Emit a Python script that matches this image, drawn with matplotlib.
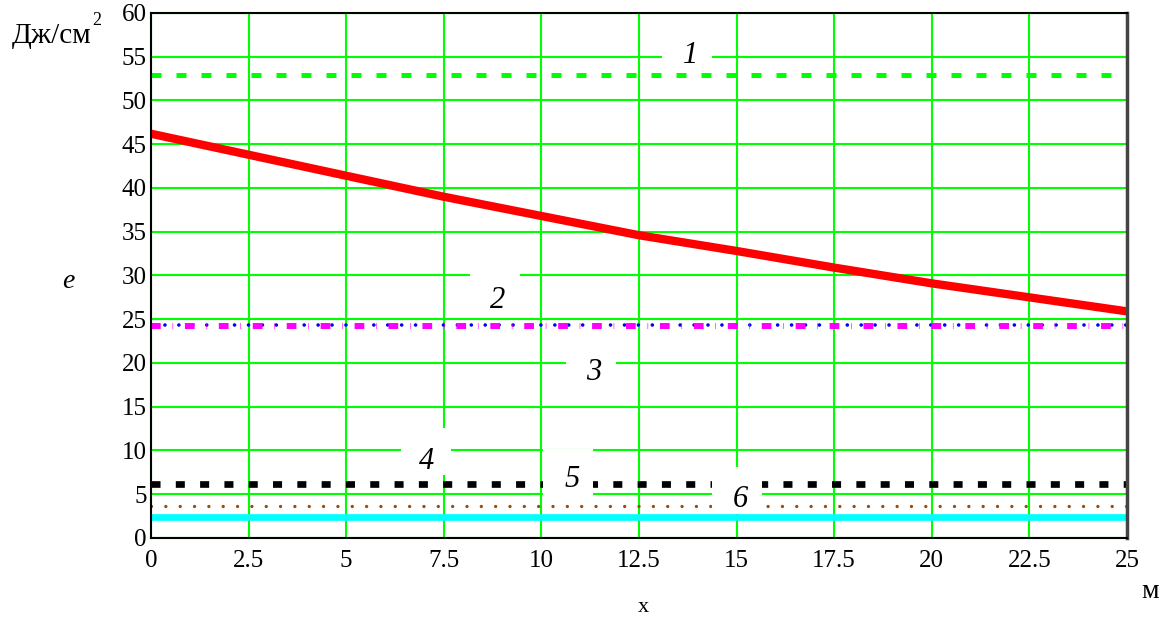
import numpy as np
import matplotlib.pyplot as plt
from matplotlib.patches import Rectangle

# x along the line, m
x_m = [0, 2.5, 5, 7.5, 10, 12.5, 15, 17.5, 20, 22.5, 25]
# curve 2 (red)
e_red = [46.2, 43.8, 41.4, 39.0, 36.8, 34.6, 32.8, 30.9, 29.1, 27.5, 25.9]
# constant levels, J/cm^2
e_green = [52.9, 52.9]
e_blue = [24.3, 24.3]
e_magenta = [24.2, 24.2]
e_black = [6.2, 6.2]
e_brown = [3.7, 3.7]
e_cyan = [2.4, 2.4]
x_ends = [0, 25]

x_ticks = np.arange(0, 25.1, 2.5)
x_tick_labels = ["0", "2.5", "5", "7.5", "10", "12.5", "15", "17.5", "20", "22.5", "25"]
y_ticks = np.arange(0, 61, 5)

curve_labels = ["1", "2", "3", "4", "5", "6"]
# text baseline positions and the white boxes behind them (data units)
label_xy = [(13.81, 54.23), (8.89, 26.23), (11.35, 18.11), (7.07, 7.94), (10.78, 5.77), (15.09, 3.49)]
box_xy = [(13.74, 56.11), (8.81, 28.11), (11.27, 20.0), (7.04, 9.83), (10.68, 7.43), (15.01, 5.37)]
box_w, box_h = 1.28, 5.37

plt.rcParams['font.family'] = ['Liberation Serif', 'DejaVu Serif']

fig = plt.figure(figsize=(11.68, 6.19), dpi=100)
ax = fig.add_axes([0.1293, 0.1309, 0.8356, 0.8481])

ax.set_xlim(0, 25)
ax.set_ylim(0, 60)
ax.set_xticks(x_ticks)
ax.set_xticklabels(x_tick_labels)
ax.set_yticks(y_ticks)
ax.tick_params(length=0, labelsize=18)
ax.tick_params(axis='x', pad=9)
ax.tick_params(axis='y', pad=3)
ax.grid(True, color='#00ff00', lw=1.5)
ax.set_axisbelow(True)
for s in ['left', 'bottom', 'top']:
    ax.spines[s].set_linewidth(1.5)
    ax.spines[s].set_color('black')
ax.spines['right'].set_linewidth(2.5)
ax.spines['right'].set_color('#444444')

lw = 3.6
ax.plot(x_ends, e_green, color='#00ff00', lw=lw, dashes=(7.2 / lw, 10.8 / lw),
        solid_capstyle='butt', dash_capstyle='butt')
ax.plot(x_m, e_red, color='red', lw=6, solid_capstyle='butt')
ax.plot(x_ends, e_blue, color='blue', lw=2.6, dashes=(0.01, 10 / 2.6),
        dash_capstyle='round')
ax.plot(x_ends, e_magenta, color='magenta', lw=4.3,
        dashes=(7 / 4.3, 8.5 / 4.3, 0.1, 8.5 / 4.3), dash_capstyle='butt')
lw = 4.8
ax.plot(x_ends, e_black, color='black', lw=lw, dashes=(6.5 / lw, 11 / lw),
        dash_capstyle='butt')
ax.plot(x_ends, e_brown, color='#994c0c', lw=2.4, dashes=(0.01, 10.3 / 2.4),
        dash_capstyle='round')
ax.plot(x_ends, e_cyan, color='#00ffff', lw=4.8, solid_capstyle='butt')

for lab, (lx, ly), (bx, by) in zip(curve_labels, label_xy, box_xy):
    ax.add_patch(Rectangle((bx - box_w / 2, by - box_h / 2), box_w, box_h,
                           facecolor='white', edgecolor='none', zorder=9))
    ax.text(lx, ly, lab, fontsize=22, style='italic', ha='center', va='baseline', zorder=10)

fig.text(12 / 1168, 1 - 43 / 619, "Дж/см", fontsize=21, ha='left', va='baseline')
fig.text(92 / 1168, 1 - 25 / 619, "2", fontsize=13, ha='left', va='baseline')
fig.text(68 / 1168, 1 - 282 / 619, "e", fontsize=20, style='italic', ha='center', va='center')
fig.text(1150 / 1168, 1 - 592 / 619, "м", fontsize=20, ha='center', va='center')
fig.text(643 / 1168, 1 - 607 / 619, "x", fontsize=16, ha='center', va='center')

fig.savefig('out.png', dpi=100)
